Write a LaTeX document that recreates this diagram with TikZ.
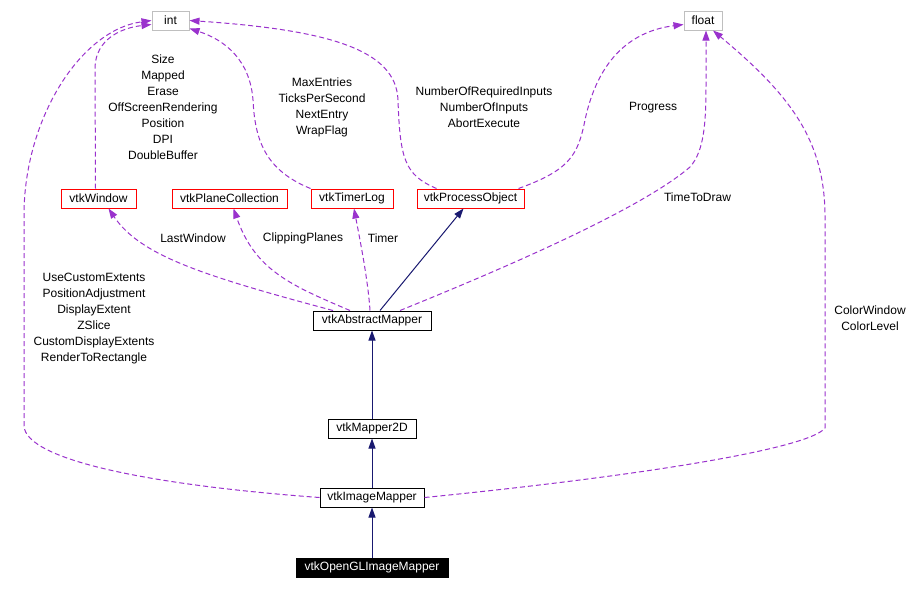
\documentclass[tikz,border=0pt]{standalone}
\usepackage{fontspec}
\setmainfont{Liberation Sans}
\usetikzlibrary{arrows.meta}
\definecolor{depc}{HTML}{9A32CD}
\definecolor{inhc}{HTML}{191970}
\definecolor{grayc}{HTML}{BFBFBF}
\begin{document}
\begin{tikzpicture}[x=1pt,y=-1pt,
  box/.style={draw, line width=1pt, inner sep=0pt, minimum height=19pt, font=\fontsize{12}{14}\selectfont},
  rbox/.style={box, draw=red},
  gbox/.style={box, draw=grayc},
  kbox/.style={box, draw=black},
  cur/.style={box, draw=black, fill=black, text=white},
  dep/.style={draw=depc, line width=1pt, dash pattern=on 5pt off 3pt, -{Triangle[length=10pt,width=7pt]}},
  inh/.style={draw=inhc, line width=1pt, -{Triangle[length=10pt,width=7pt]}},
  lab/.style={font=\fontsize{12}{16}\selectfont, align=center, inner sep=0pt}]
\useasboundingbox[fill=white] (0,0) rectangle (917,589);

% nodes
\node[gbox, minimum width=37pt] (int) at (170.5,20.5) {int};
\node[gbox, minimum width=38pt] (float) at (703,20.5) {float};
\node[rbox, minimum width=75pt] (win) at (98.5,198.5) {vtkWindow};
\node[rbox, minimum width=115pt] (pc) at (229.5,198.5) {vtkPlaneCollection};
\node[rbox, minimum width=82pt] (tl) at (352,198.5) {vtkTimerLog};
\node[rbox, minimum width=107pt] (po) at (470.5,198.5) {vtkProcessObject};
\node[kbox, minimum width=118pt] (am) at (372,320.5) {vtkAbstractMapper};
\node[kbox, minimum width=88pt] (m2d) at (372,428.5) {vtkMapper2D};
\node[kbox, minimum width=104pt] (im) at (372,497.5) {vtkImageMapper};
\node[cur, minimum width=152pt] (ogl) at (372,567.5) {vtkOpenGLImageMapper};

% labels
\node[lab] (lwin) at (163,107) {Size\\Mapped\\Erase\\OffScreenRendering\\Position\\DPI\\DoubleBuffer};
\node[lab] (ltl) at (322,107) {MaxEntries\\TicksPerSecond\\NextEntry\\WrapFlag};
\node[lab] (lpo) at (484,107) {NumberOfRequiredInputs\\NumberOfInputs\\AbortExecute};
\node[lab] (lprog) at (653,107.5) {Progress};
\node[lab] (ltime) at (697.5,197.5) {TimeToDraw};
\node[lab] (llast) at (193,238.5) {LastWindow};
\node[lab] (lclip) at (303,238.5) {ClippingPlanes};
\node[lab] (ltimer) at (383,238.5) {Timer};
\node[lab] (lim) at (94,318.5) {UseCustomExtents\\PositionAdjustment\\DisplayExtent\\ZSlice\\CustomDisplayExtents\\RenderToRectangle};
\node[lab] (lcol) at (870,318.5) {ColorWindow\\ColorLevel};

% usage (dashed) edges
\draw[dep] (im.west) .. controls (150,485) and (26,460) .. (24,426) -- (24,215) .. controls (24,120) and (80,30) .. (int.west);
\draw[dep] ([xshift=-3pt]win.north) -- (95,67) .. controls (96,40) and (120,28) .. ([yshift=-4pt]int.west);
\draw[dep] (tl.north west) .. controls (265,170) and (255,140) .. (253,100) .. controls (250,60) and (225,40) .. ([yshift=2pt]int.south east);
\draw[dep] ([xshift=20pt]po.north west) .. controls (405,175) and (400,160) .. (398,100) .. controls (396,50) and (330,30) .. (int.east);
\draw[dep] ([xshift=-6pt]po.north east) .. controls (570,170) and (578,155) .. (585,120) .. controls (600,50) and (640,30) .. ([yshift=-4pt]float.west);
\draw[dep] ([xshift=28pt]am.north) .. controls (500,270) and (640,210) .. (690,167) .. controls (705,150) and (706,120) .. (706,80) -- ([xshift=3pt]float.south);
\draw[dep] (im.east) .. controls (650,475) and (810,448) .. (825,428) -- (825,217) .. controls (825,140) and (790,95) .. ([xshift=10pt]float.south);
\draw[dep] ([xshift=-39pt]am.north) .. controls (200,275) and (140,255) .. ([xshift=10pt]win.south);
\draw[dep] ([xshift=-22pt]am.north) .. controls (290,285) and (255,270) .. ([xshift=4pt]pc.south);
\draw[dep] ([xshift=-2pt]am.north) .. controls (368,280) and (360,240) .. ([xshift=2pt]tl.south);

% inheritance edges
\draw[inh] ([xshift=8pt]am.north) -- ([xshift=-7pt]po.south);
\draw[inh] (m2d.north) -- (am.south);
\draw[inh] (im.north) -- (m2d.south);
\draw[inh] (ogl.north) -- (im.south);
\end{tikzpicture}
\end{document}
